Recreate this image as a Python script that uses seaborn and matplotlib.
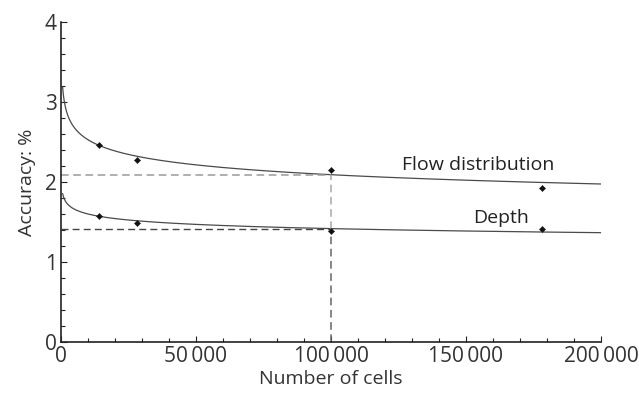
import numpy as np
import pandas as pd
import matplotlib
matplotlib.use("Agg")
import matplotlib.pyplot as plt
from matplotlib.ticker import MultipleLocator, FuncFormatter
import seaborn as sns

# Measured accuracy at each mesh size
cells = [14000, 28000, 100000, 178000]
flow_acc = [2.46, 2.27, 2.15, 1.93]
depth_acc = [1.58, 1.49, 1.39, 1.41]

# Power-law trend lines  y = a * n^(-b)
flow_fit = (5.40, 0.0824)
depth_fit = (2.60, 0.0527)

# Reference level read at 100 000 cells
ref_cells = 100000
flow_ref = 2.09
depth_ref = 1.41

series_labels = ["Flow distribution", "Depth"]
x_ticks = [0, 50000, 100000, 150000, 200000]
y_ticks = [0, 1, 2, 3, 4]

sns.set_theme(style="ticks")
plt.rcParams["font.family"] = ["Open Sans", "DejaVu Sans"]

fig = plt.figure(figsize=(6.39, 3.96), dpi=100)
ax = fig.add_axes([61 / 639, 54 / 396, 540 / 639, 320 / 396])

n = np.linspace(600, 200000, 2000)
n = np.unique(np.concatenate([np.geomspace(600, 20000, 400), n]))
curves = pd.DataFrame({
    "n": np.concatenate([n, n]),
    "acc": np.concatenate([flow_fit[0] * n ** -flow_fit[1],
                           depth_fit[0] * n ** -depth_fit[1]]),
    "series": [series_labels[0]] * len(n) + [series_labels[1]] * len(n),
})
sns.lineplot(data=curves, x="n", y="acc", units="series", estimator=None,
             color="#4a4a4a", linewidth=0.9, ax=ax, legend=False)

points = pd.DataFrame({
    "n": cells + cells,
    "acc": flow_acc + depth_acc,
})
sns.scatterplot(data=points, x="n", y="acc", marker="D", s=10,
                color="#111111", edgecolor="#111111", linewidth=0.3,
                ax=ax, legend=False, zorder=5)

# Guide lines at the reference mesh size
dash = (0, (5, 3))
ax.plot([0, ref_cells], [flow_ref, flow_ref], color="#9a9a9a", lw=1.1, ls=dash)
ax.plot([0, ref_cells], [depth_ref, depth_ref], color="#444444", lw=1.0, ls=dash)
ax.plot([ref_cells, ref_cells], [depth_ref, flow_ref], color="#a8a8a8", lw=1.1, ls=dash)
ax.plot([ref_cells, ref_cells], [0, depth_ref], color="#666666", lw=1.1, ls=dash)

ax.text(126300, 2.21, series_labels[0], fontsize=14, color="#222222",
        ha="left", va="center")
ax.text(152600, 1.55, series_labels[1], fontsize=14, color="#222222",
        ha="left", va="center")

ax.set_xlim(0, 200000)
ax.set_ylim(0, 4)
ax.set_xticks(x_ticks)
ax.set_yticks(y_ticks)
ax.xaxis.set_minor_locator(MultipleLocator(10000))
ax.yaxis.set_minor_locator(MultipleLocator(0.2))
ax.xaxis.set_major_formatter(FuncFormatter(
    lambda v, p: f"{int(v):,}".replace(",", "\u2009")))
ax.tick_params(axis="both", which="both", direction="in", colors="#222222",
               labelsize=15, width=0.8)
ax.tick_params(axis="both", which="major", length=4, pad=3)
ax.tick_params(axis="both", which="minor", length=3)
for lbl in ax.get_xticklabels() + ax.get_yticklabels():
    lbl.set_color("#333333")

ax.set_xlabel("Number of cells", fontsize=14, color="#333333", labelpad=2)
ax.set_ylabel("Accuracy: %", fontsize=14, color="#333333", labelpad=6)

sns.despine(ax=ax)
for side in ("left", "bottom"):
    ax.spines[side].set_color("#222222")
    ax.spines[side].set_linewidth(1.2)

fig.savefig("out.png", dpi=100)
